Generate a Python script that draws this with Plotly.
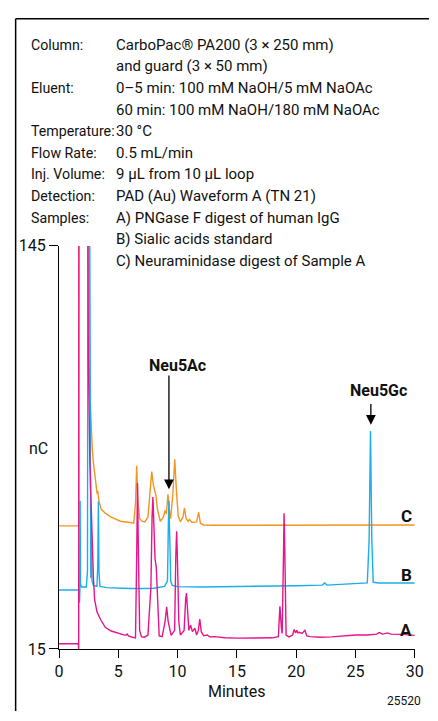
import plotly.graph_objects as go

W, H = 438, 721

# ---------------- data ----------------
minutes_A = [0, 1.62, 1.66, 1.68, 2.40, 2.47, 2.6, 2.75, 2.9, 3.0, 3.2, 3.5, 3.9, 4.4, 5.0, 5.6, 5.75, 5.85,
             6.2, 6.45, 6.55, 6.62, 6.70, 6.8, 6.95, 7.2, 7.5, 7.75, 7.85, 7.92, 8.0, 8.1, 8.2, 8.3, 8.45,
             8.7, 8.95, 9.08, 9.2, 9.46, 9.75, 9.85, 9.92, 10.0, 10.1, 10.23, 10.55, 10.68, 10.75, 10.85,
             10.95, 11.1, 11.25, 11.46, 11.6, 11.75, 11.87, 12.0, 12.2, 12.5, 12.7, 13.1, 14, 15, 16, 17,
             18, 18.5, 18.63, 18.75, 18.82, 18.93, 18.98, 19.05, 19.15, 19.4, 19.7, 19.83, 19.95, 20.05,
             20.15, 20.26, 20.5, 20.73, 20.9, 21.2, 22, 23, 24, 25, 26, 26.8, 27.0, 27.3, 27.7, 28.0, 29, 30]
signal_A = [16.7, 16.7, 15.0, 200, 200, 110, 75, 52, 38, 31, 27, 24.5, 22, 20.8, 20.0, 19.4, 19.8, 19.2,
            18.8, 18.6, 45, 68.5, 45, 21, 19, 18.8, 19.5, 35, 58, 64, 55, 44, 41.5, 30, 19.2,
            19.0, 24, 28.6, 24, 19.4, 21, 45, 53, 42, 24, 19.5, 21, 31, 33, 27,
            21, 22.7, 20.6, 21.7, 19.5, 21, 24.6, 20.5, 19.3, 19.5, 18.9, 19.0, 18.6, 18.5, 18.6, 18.6,
            18.6, 19, 28.8, 22, 20, 45, 58.8, 45, 19.5, 18.9, 19.5, 21.3, 20.2, 21.0,
            20.2, 20.4, 20.0, 21.0, 19.2, 19.0, 18.8, 18.9, 19.2, 19.5, 19.5, 19.8, 20.3, 19.8, 20.2, 19.8, 19.7, 19.4]

minutes_B = [0, 1.70, 1.73, 1.76, 1.78, 1.81, 1.9, 2.3, 2.40, 2.45, 2.55, 2.62, 2.68, 2.73, 2.78, 2.9,
             3.2, 3.27, 3.32, 3.37, 3.45, 4, 5, 6, 7, 8, 8.9, 9.15, 9.22, 9.27, 9.33, 9.42, 9.55, 10, 12,
             15, 18, 20, 22.2, 22.4, 22.6, 24, 25.5, 26.0, 26.15, 26.27, 26.38, 26.5, 27, 28, 29, 30]
signal_B = [34.0, 34.0, 29.9, 34, 62.8, 36, 35, 35, 40, 200, 200, 40, 38, 54.5, 37, 35.5,
            35.2, 42, 62.6, 40, 35.2, 34.8, 34.6, 34.5, 34.5, 34.6, 35.2, 37, 55, 62.8, 52, 37, 35.5, 35.1, 35.0,
            35.1, 35.3, 35.4, 35.6, 36.3, 35.6, 35.8, 36.0, 36.3, 50, 85.3, 50, 36.5, 36.3, 36.2, 36.3, 36.3]

minutes_C = [0, 1.66, 1.68, 2.50, 2.59, 2.70, 2.8, 2.9, 3.0, 3.14, 3.22, 3.27, 3.35, 3.54, 3.9, 4.36, 5.18,
             6.0, 6.3, 6.45, 6.55, 6.65, 6.8, 7.0, 7.23, 7.5, 7.7, 7.82, 7.95, 8.1, 8.18, 8.3, 8.54, 8.8,
             8.94, 9.05, 9.19, 9.3, 9.41, 9.6, 9.76, 9.9, 10.05, 10.23, 10.45, 10.58, 10.72, 10.9, 11.0,
             11.2, 11.6, 11.78, 11.92, 12.2, 13, 15, 18, 20, 22, 24, 26, 28, 30]
signal_C = [54.7, 54.7, 200, 200, 99, 88, 80, 75, 71.5, 67.5, 65, 66, 63, 60.2, 58.8, 57.6, 56.2,
            55.8, 55.6, 62, 74.1, 63, 57, 56.2, 56, 57.5, 66, 72.2, 68, 65, 64.4, 60, 56.2, 57.5,
            59.7, 58.5, 64.9, 60, 57, 65, 76.2, 66, 58, 56, 57.5, 60.5, 57, 56.2, 56.8,
            55.9, 56.0, 59.1, 55.6, 55.0, 54.9, 54.9, 54.9, 55.0, 55.1, 55.0, 55.0, 55.0, 55.0]

x_ticks = [0, 5, 10, 15, 20, 25, 30]
y_ticks = [15, 145]
trace_labels = ["A", "B", "C"]
trace_label_levels = [21.2, 38.8, 57.8]

info_labels = ["Column:", "", "Eluent:", "", "Temperature:", "Flow Rate:", "Inj. Volume:",
               "Detection:", "Samples:", "", ""]
info_values = ["CarboPac® PA200 (3 × 250 mm)", "and guard (3 × 50 mm)",
               "0–5 min: 100 mM NaOH/5 mM NaOAc", "60 min: 100 mM NaOH/180 mM NaOAc",
               "30 °C", "0.5 mL/min", "9 µL from 10 µL loop", "PAD (Au) Waveform A (TN 21)",
               "A) PNGase F digest of human IgG", "B) Sialic acids standard",
               "C) Neuraminidase digest of Sample A"]

PINK, BLUE, ORANGE = "#E6158A", "#1AAEE8", "#F39422"
FONT = "Roboto, Liberation Sans, Arial, sans-serif"


def P(px, py):
    return px / W, 1 - py / H


fig = go.Figure()
# C drawn first so that A ends up on top, as in the reference
for xs, ys, col in [(minutes_C, signal_C, ORANGE), (minutes_B, signal_B, BLUE), (minutes_A, signal_A, PINK)]:
    fig.add_trace(go.Scatter(x=xs, y=ys, mode="lines", line=dict(color=col, width=1.4),
                             hoverinfo="skip", showlegend=False))

x0, x1 = 56.7, 423.3
ytop, ybot = 243.3, 657.3
fig.update_layout(
    width=W, height=H, margin=dict(l=0, r=0, t=0, b=0),
    paper_bgcolor="white", plot_bgcolor="white",
    font=dict(family=FONT, color="#111111"),
    xaxis=dict(domain=[x0 / W, x1 / W], range=[0, 30], tickvals=x_ticks, showgrid=False,
               zeroline=False, showline=True, linecolor="black", linewidth=1.3, ticks="outside",
               ticklen=8, tickwidth=1.3, tickcolor="black", tickfont=dict(size=16, family=FONT)),
    yaxis=dict(domain=[1 - ybot / H, 1 - ytop / H], range=[15, 145], tickvals=y_ticks, showgrid=False,
               zeroline=False, showline=True, linecolor="black", linewidth=1.3, ticks="outside",
               ticklen=9, tickwidth=1.3, tickcolor="black", tickfont=dict(size=16, family=FONT)),
)

ann = []
for i, (lab, val) in enumerate(zip(info_labels, info_values)):
    py = 36.7 + 22.2 * i
    if lab:
        ax, ay = P(26, py)
        ann.append(dict(x=ax, y=ay, xref="paper", yref="paper", text=lab, showarrow=False,
                        xanchor="left", yanchor="middle", font=dict(size=14.2, family=FONT)))
    ax, ay = P(113, py)
    ann.append(dict(x=ax, y=ay, xref="paper", yref="paper", text=val, showarrow=False,
                    xanchor="left", yanchor="middle", font=dict(size=15, family=FONT)))

# axis titles
ax, ay = P(35.5, 451)
ann.append(dict(x=ax, y=ay, xref="paper", yref="paper", text="nC", showarrow=False,
                xanchor="center", yanchor="middle", font=dict(size=16, family=FONT)))
ax, ay = P(240, 701)
ann.append(dict(x=ax, y=ay, xref="paper", yref="paper", text="Minutes", showarrow=False,
                xanchor="center", yanchor="middle", font=dict(size=16, family=FONT)))
ax, ay = P(412, 711)
ann.append(dict(x=ax, y=ay, xref="paper", yref="paper", text="25520", showarrow=False,
                xanchor="center", yanchor="middle", font=dict(size=12, family=FONT)))

# trace labels
for lab, lev in zip(trace_labels, trace_label_levels):
    ann.append(dict(x=29.3, y=lev, xref="x", yref="y", text="<b>%s</b>" % lab, showarrow=False,
                    xanchor="center", yanchor="middle", font=dict(size=17, family=FONT)))

# peak labels and arrows
ann.append(dict(x=9.27, y=66.5, xref="x", yref="y", ax=9.27, ay=103.7, axref="x", ayref="y", text="",
                showarrow=True, arrowhead=2, arrowsize=1.5, arrowwidth=1.3, arrowcolor="black"))
ann.append(dict(x=9.98, y=106.5, xref="x", yref="y", text="<b>Neu5Ac</b>", showarrow=False,
                xanchor="center", yanchor="middle", font=dict(size=16, family=FONT)))
ann.append(dict(x=26.3, y=87.3, xref="x", yref="y", ax=26.3, ay=94.5, axref="x", ayref="y", text="",
                showarrow=True, arrowhead=2, arrowsize=1.5, arrowwidth=1.3, arrowcolor="black"))
ann.append(dict(x=26.97, y=98.2, xref="x", yref="y", text="<b>Neu5Gc</b>", showarrow=False,
                xanchor="center", yanchor="middle", font=dict(size=16, family=FONT)))
fig.update_layout(annotations=ann)

# partial frame (top and left edges)
fig.add_shape(type="line", xref="paper", yref="paper", x0=12 / W, x1=1.0, y0=1 - 10 / H, y1=1 - 10 / H,
              line=dict(color="black", width=1.5))
fig.add_shape(type="line", xref="paper", yref="paper", x0=12 / W, x1=12 / W, y0=1 - 10 / H, y1=0,
              line=dict(color="black", width=1.5))

fig.write_html("out.html", config={"displayModeBar": False},
               post_script="document.body.style.margin='0';document.body.style.padding='0';"
                           "document.body.style.overflow='hidden';"
                           "document.documentElement.style.overflow='hidden';")
